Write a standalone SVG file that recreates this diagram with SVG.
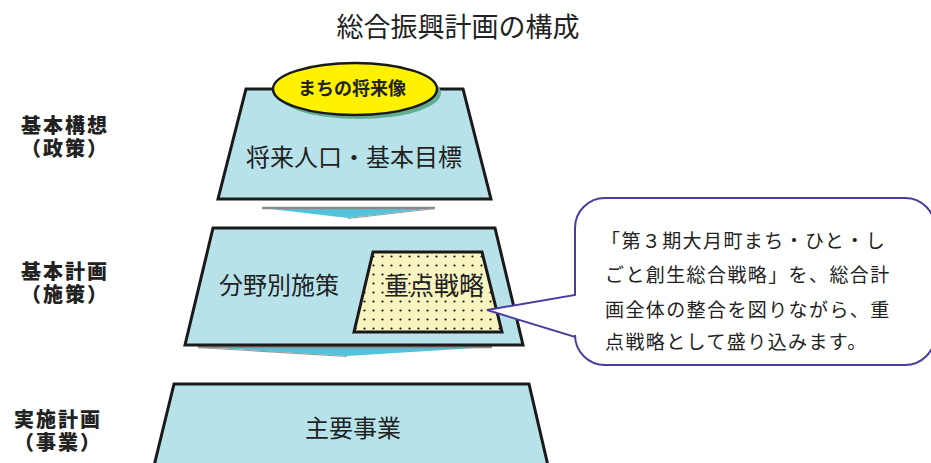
<svg xmlns="http://www.w3.org/2000/svg" width="931" height="463" viewBox="0 0 931 463">
<defs>
<pattern id="dots" x="0" y="0" width="9" height="9" patternUnits="userSpaceOnUse">
<rect width="9" height="9" fill="#f8f4bf"/>
<circle cx="4.5" cy="4.5" r="1.1" fill="#111"/>
</pattern>
<style>
.jp{font-family:"Noto Sans CJK JP","Noto Sans CJK SC",sans-serif;fill:#222}
.lbl{font-family:"Noto Sans CJK JP",sans-serif;font-weight:900;font-size:20px;fill:#222;letter-spacing:2px}
.trap{fill:#b7e2ea;stroke:#1a1a1a;stroke-width:3;stroke-linejoin:miter}
.arr{fill:#52c3da}
.arrline{stroke:#8a8a8a;stroke-width:2.5;fill:none}
</style>
</defs>
<rect width="931" height="463" fill="#ffffff"/>
<text class="jp" x="458" y="37" font-size="27" text-anchor="middle">総合振興計画の構成</text>
<g id="label-kihonkoso">
<text class="lbl" text-anchor="middle"><tspan x="65" y="133">基本構想</tspan><tspan x="65" y="156">（政策）</tspan></text>
</g>
<g id="label-kihonkeikaku">
<text class="lbl" text-anchor="middle"><tspan x="65" y="279">基本計画</tspan><tspan x="65" y="302">（施策）</tspan></text>
</g>
<g id="label-jisshi">
<text class="lbl" text-anchor="middle"><tspan x="58" y="427">実施計画</tspan><tspan x="58" y="450">（事業）</tspan></text>
</g>
<g id="connectors">
<polygon class="arr" points="262,208 435,208 348,218"/>
<line class="arrline" x1="262" y1="208" x2="435" y2="208"/>
<line x1="348" y1="218.5" x2="435" y2="208.5" stroke="#9a9a9a" stroke-width="1"/>
<polygon class="arr" points="198,347 492,347 347,356"/>
<line class="arrline" x1="198" y1="347" x2="492" y2="347"/>
<line x1="198" y1="347.5" x2="347" y2="356.5" stroke="#9a9a9a" stroke-width="1.2"/>
</g>
<g id="node-kihonkoso">
<polygon class="trap" points="246,89 463,89 491,199 218,199"/>
<text class="jp" x="354" y="166" font-size="24" text-anchor="middle">将来人口・基本目標</text>
</g>
<g id="node-shoraizo">
<ellipse cx="359" cy="93" rx="82" ry="26" fill="#63ad93"/>
<ellipse cx="355" cy="89" rx="82" ry="26" fill="#fff200" stroke="#1a1a1a" stroke-width="2.5"/>
<text class="jp" x="352" y="95" font-size="18" font-weight="bold" text-anchor="middle">まちの将来像</text>
</g>
<g id="node-kihonkeikaku">
<polygon class="trap" points="213,228 495,228 523,345 185,345"/>
<text class="jp" x="279" y="294" font-size="24" text-anchor="middle">分野別施策</text>
</g>
<g id="node-juten">
<polygon points="373,252 482,252 502,332 354,332" fill="url(#dots)" stroke="#1a1a1a" stroke-width="3"/>
<text class="jp" x="434" y="295" font-size="25" text-anchor="middle">重点戦略</text>
</g>
<g id="node-jisshi">
<polygon class="trap" points="174,384 529,384 549,470 153,470"/>
<text class="jp" x="353" y="437" font-size="24" text-anchor="middle">主要事業</text>
</g>
<g id="node-callout">
<path d="M605,198 H905 A30,30 0 0 1 935,228 V335 A30,30 0 0 1 905,365 H605 A30,30 0 0 1 575,335 V337 L487,310 L575,295 V228 A30,30 0 0 1 605,198 Z" fill="#ffffff" stroke="#4b3d9e" stroke-width="2"/>
<text class="jp" font-size="19" letter-spacing="1.4">
<tspan x="601" y="248">「第３期大月町まち・ひと・し</tspan>
<tspan x="605" y="282">ごと創生総合戦略」を、総合計</tspan>
<tspan x="605" y="317">画全体の整合を図りながら、重</tspan>
<tspan x="605" y="349">点戦略として盛り込みます。</tspan>
</text>
</g>
</svg>
